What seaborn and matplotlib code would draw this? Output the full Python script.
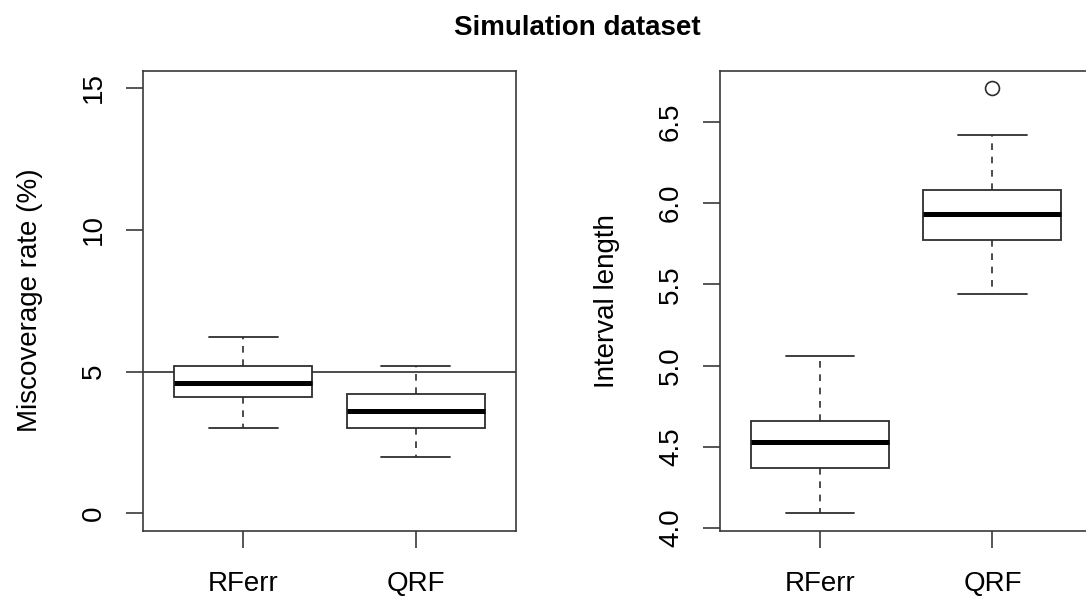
import numpy as np
import pandas as pd
import matplotlib
matplotlib.use("Agg")
import matplotlib.pyplot as plt
import seaborn as sns

# ---- data ----
methods = ["RFerr", "QRF"]
rate_rferr = [3.0, 4.1, 4.6, 5.2, 6.2]
rate_qrf = [2.0, 3.0, 3.6, 4.2, 5.2]
len_rferr = [4.09, 4.37, 4.53, 4.66, 5.06]
len_qrf = [5.44, 5.77, 5.77, 5.93, 5.93, 6.08, 6.08, 6.42, 6.71]
rate_ticks = [0, 5, 10, 15]
len_ticks = [4.0, 4.5, 5.0, 5.5, 6.0, 6.5]
nominal_rate = 5

title = "Simulation dataset"
ylabel_rate = "Miscoverage rate (%)"
ylabel_len = "Interval length"

df_rate = pd.DataFrame({
    "method": [methods[0]] * len(rate_rferr) + [methods[1]] * len(rate_qrf),
    "value": rate_rferr + rate_qrf,
})
df_len = pd.DataFrame({
    "method": [methods[0]] * len(len_rferr) + [methods[1]] * len(len_qrf),
    "value": len_rferr + len_qrf,
})

sns.set_style("white")
plt.rcParams["font.family"] = ["Liberation Sans", "DejaVu Sans"]
plt.rcParams["text.color"] = "black"
plt.rcParams["axes.labelcolor"] = "black"
plt.rcParams["xtick.color"] = "black"
plt.rcParams["ytick.color"] = "black"

FS = 20
EDGE = "#2e2e2e"
SPINE = "#3a3a3a"

fig = plt.figure(figsize=(10.86, 5.98), dpi=100)
axw = 372.4 / 1086
axh = (530.5 - 70.7) / 598
axb = (598 - 530.5) / 598
ax1 = fig.add_axes([143.3 / 1086, axb, axw, axh])
ax2 = fig.add_axes([720.0 / 1086, axb, axw, axh])

box_kw = dict(
    x="method", y="value", order=methods, width=0.8,
    color="white", linecolor=EDGE, linewidth=1.3, whis=1.5,
    medianprops=dict(color="black", linewidth=3.6),
    whiskerprops=dict(linestyle=(0, (4, 4)), color=EDGE, linewidth=1.2),
    capprops=dict(linestyle="-", color=EDGE, linewidth=1.3),
    flierprops=dict(marker="o", markersize=10, markerfacecolor="none",
                    markeredgecolor=EDGE, markeredgewidth=1.2),
)

sns.boxplot(data=df_rate, ax=ax1, **box_kw)
sns.boxplot(data=df_len, ax=ax2, **box_kw)

ax1.axhline(nominal_rate, color=EDGE, linewidth=1.2, zorder=0.5)

# R-like limits (4% extension)
ax1.set_ylim(rate_ticks[0] - 0.04 * (rate_ticks[-1] - rate_ticks[0]),
             rate_ticks[-1] + 0.04 * (rate_ticks[-1] - rate_ticks[0]))
allv = np.array(df_len["value"])
r = allv.max() - allv.min()
ax2.set_ylim(allv.min() - 0.04 * r, allv.max() + 0.04 * r)

for ax, ticks, lab, fmt in [(ax1, rate_ticks, ylabel_rate, "{:g}"),
                            (ax2, len_ticks, ylabel_len, "{:.1f}")]:
    ax.set_xlim(-0.58, 1.58)
    ax.set_yticks(ticks)
    ax.set_yticklabels([fmt.format(t) for t in ticks])
    ax.set_xlabel("")
    ax.set_ylabel(lab, fontsize=FS, color="black")
    ax.yaxis.set_label_coords(-0.269, 0.5)
    ax.tick_params(axis="both", length=12, width=1.2, color=SPINE,
                   labelsize=FS, labelcolor="black", direction="out",
                   left=True, bottom=True)
    ax.tick_params(axis="x", pad=17)
    ax.tick_params(axis="y", pad=14, labelrotation=90)
    for lbl in ax.get_yticklabels():
        lbl.set_va("center")
        lbl.set_ha("right")
    for s in ax.spines.values():
        s.set_visible(True)
        s.set_color(SPINE)
        s.set_linewidth(1.2)
    ax.grid(False)

fig.text(577 / 1086, (598 - 35) / 598, title, ha="center", va="baseline",
         fontsize=FS, fontweight="bold", color="black")

fig.savefig("out.png", dpi=100)
